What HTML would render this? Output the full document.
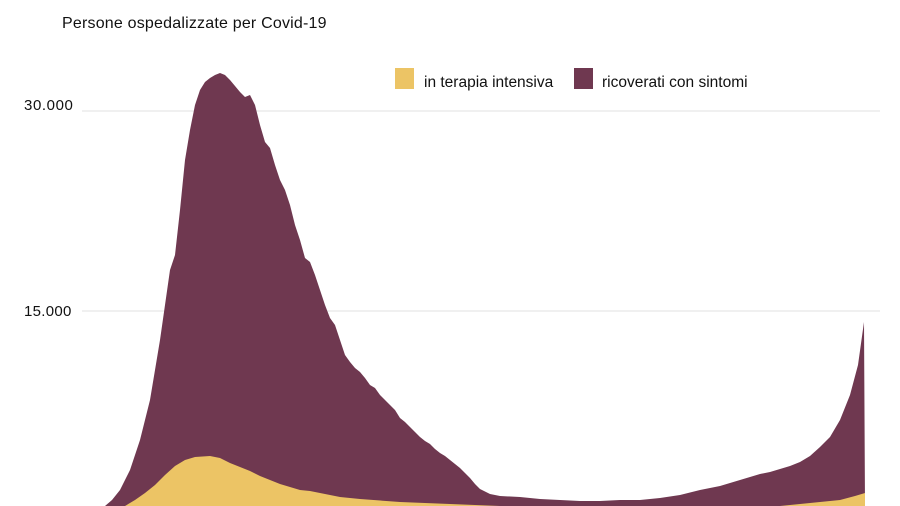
<!DOCTYPE html>
<html><head><meta charset="utf-8"><style>
html,body{margin:0;padding:0;background:#fff;width:900px;height:506px;overflow:hidden}
svg text{font-family:"Liberation Sans",sans-serif;fill:#111}
</style></head><body>
<svg width="900" height="506" viewBox="0 0 900 506">
<line x1="82" y1="111" x2="880" y2="111" stroke="#e6e6e6" stroke-width="1.2"/>
<line x1="82" y1="311" x2="880" y2="311" stroke="#e6e6e6" stroke-width="1.2"/>
<text x="62" y="28" font-size="16" letter-spacing="0.2">Persone ospedalizzate per Covid-19</text>
<text x="24" y="110" font-size="15" letter-spacing="0.6">30.000</text>
<text x="24" y="316" font-size="15" letter-spacing="0.3">15.000</text>
<rect x="395" y="68" width="19" height="21" fill="#ecc465"/>
<text x="424" y="87" font-size="15.5" letter-spacing="0">in terapia intensiva</text>
<rect x="574" y="68" width="19" height="21" fill="#6f3850"/>
<text x="602" y="87" font-size="15.5" letter-spacing="0">ricoverati con  sintomi</text>
<path fill="#6f3850" d="M105,506 L112,500 L120,490 L130,470 L140,440 L150,400 L160,340 L170,270 L175,255 L180,210 L185,160 L190,130 L195,105 L200,90 L205,82 L210,78 L215,75 L220,73 L225,75 L230,80 L235,86 L240,92 L245,97 L250,95 L255,105 L260,125 L265,142 L270,148 L275,165 L280,180 L285,190 L290,205 L295,225 L300,240 L305,258 L310,262 L315,275 L320,290 L325,305 L330,318 L335,325 L340,340 L345,355 L350,362 L355,368 L360,372 L365,378 L370,385 L375,388 L380,395 L385,400 L390,405 L395,410 L400,418 L405,422 L410,427 L415,432 L420,437 L425,441 L430,444 L435,449 L440,453 L445,456 L450,460 L455,464 L460,468 L465,473 L470,478 L475,484 L480,489 L490,494 L500,496 L520,497 L540,499 L560,500 L580,501 L600,501 L620,500 L640,500 L660,498 L680,495 L700,490 L720,486 L740,480 L750,477 L760,474 L770,472 L780,469 L790,466 L800,462 L810,456 L820,447 L830,437 L840,420 L850,395 L858,365 L864,322 L865,506 Z"/>
<path fill="#ecc465" d="M125,506 L135,500 L145,493 L155,485 L165,475 L175,466 L185,460 L195,457 L210,456 L220,458 L230,463 L240,467 L250,471 L260,476 L270,480 L280,484 L290,487 L300,490 L310,491 L320,493 L330,495 L340,497 L360,499 L400,502 L450,504 L500,506 L780,506 L820,502 L840,500 L855,496 L865,493 L865,506 Z"/>
</svg>
</body></html>
